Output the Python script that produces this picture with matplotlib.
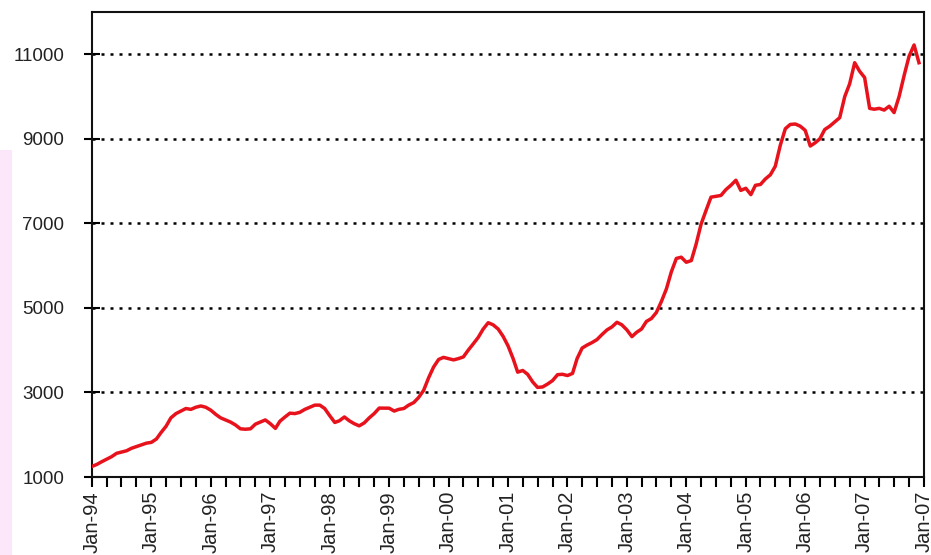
import numpy as np
import pandas as pd
import matplotlib
matplotlib.use("Agg")
import matplotlib.pyplot as plt
import matplotlib.dates as mdates
from matplotlib.patches import Rectangle

plt.rcParams["font.family"] = ["Liberation Sans", "DejaVu Sans"]

# monthly values, Jan-94 .. Dec-07
values_1994 = [1250, 1300, 1360, 1420, 1480, 1560, 1590, 1620, 1680, 1720, 1760, 1800]
values_1995 = [1820, 1900, 2050, 2200, 2400, 2500, 2560, 2620, 2600, 2650, 2680, 2650]
values_1996 = [2580, 2480, 2400, 2350, 2300, 2230, 2140, 2130, 2140, 2250, 2300, 2350]
values_1997 = [2260, 2150, 2320, 2420, 2510, 2500, 2530, 2600, 2650, 2700, 2700, 2620]
values_1998 = [2450, 2290, 2330, 2420, 2330, 2260, 2210, 2280, 2400, 2500, 2630, 2630]
values_1999 = [2628, 2560, 2600, 2620, 2700, 2760, 2880, 3050, 3350, 3600, 3780, 3830]
values_2000 = [3800, 3770, 3800, 3840, 4000, 4150, 4300, 4500, 4650, 4600, 4500, 4330]
values_2001 = [4100, 3800, 3480, 3520, 3430, 3250, 3120, 3130, 3200, 3280, 3420, 3430]
values_2002 = [3400, 3450, 3800, 4050, 4120, 4180, 4250, 4370, 4480, 4550, 4660, 4600]
values_2003 = [4480, 4320, 4420, 4500, 4680, 4750, 4890, 5150, 5450, 5850, 6170, 6200]
values_2004 = [6080, 6120, 6500, 6980, 7300, 7620, 7640, 7660, 7800, 7900, 8020, 7780]
values_2005 = [7830, 7680, 7900, 7920, 8050, 8150, 8350, 8850, 9240, 9340, 9350, 9300]
values_2006 = [9200, 8830, 8900, 9000, 9220, 9300, 9400, 9500, 10000, 10300, 10800, 10600]
values_2007 = [10450, 9720, 9700, 9720, 9680, 9770, 9620, 10000, 10500, 10950, 11220, 10800]

values = (values_1994 + values_1995 + values_1996 + values_1997 + values_1998
          + values_1999 + values_2000 + values_2001 + values_2002 + values_2003
          + values_2004 + values_2005 + values_2006 + values_2007)
months = pd.date_range("1994-01-01", periods=len(values), freq="MS")

tick_years = list(range(1994, 2009))
tick_labels = ["Jan-94", "Jan-95", "Jan-96", "Jan-97", "Jan-98", "Jan-99", "Jan-00",
               "Jan-01", "Jan-02", "Jan-03", "Jan-04", "Jan-05", "Jan-06", "Jan-07",
               "Jan-07"]
y_ticks = [1000, 3000, 5000, 7000, 9000, 11000]

fig = plt.figure(figsize=(9.31, 5.55), dpi=100)
ax = fig.add_axes([92 / 931, 78 / 555, 832 / 931, 465 / 555])

# pink strip at the left edge
fig.patches.append(Rectangle((0, 0), 12 / 931, 405 / 555, transform=fig.transFigure,
                             facecolor="#fce6f9", edgecolor="none", zorder=0))

for yv in y_ticks[1:]:
    ax.axhline(yv, color="black", lw=1.8, ls=(0, (1.2, 2.4)), zorder=1)

ax.plot(months, values, color="#e8121c", lw=2.5, zorder=3)

ax.set_ylim(1000, 12000)
ax.set_yticks(y_ticks)
ax.set_yticklabels([str(v) for v in y_ticks])

ticks = [pd.Timestamp(f"{y}-01-01") for y in tick_years]
ax.set_xlim(ticks[0], ticks[-1])
ax.set_xticks(ticks)
ax.set_xticklabels(tick_labels, rotation=90)
ax.xaxis.set_minor_locator(mdates.MonthLocator(bymonth=[4, 7, 10]))

for side in ["left", "right", "top", "bottom"]:
    ax.spines[side].set_linewidth(1.5)
    ax.spines[side].set_color("#111111")

ax.tick_params(axis="y", direction="inout", length=12, width=1.5, labelsize=13.5,
               pad=14, labelcolor="#222222")
ax.tick_params(axis="x", which="both", direction="out", length=7, width=1.5,
               labelsize=14.5, pad=3, labelcolor="#222222")

fig.savefig("out.png", dpi=100)
